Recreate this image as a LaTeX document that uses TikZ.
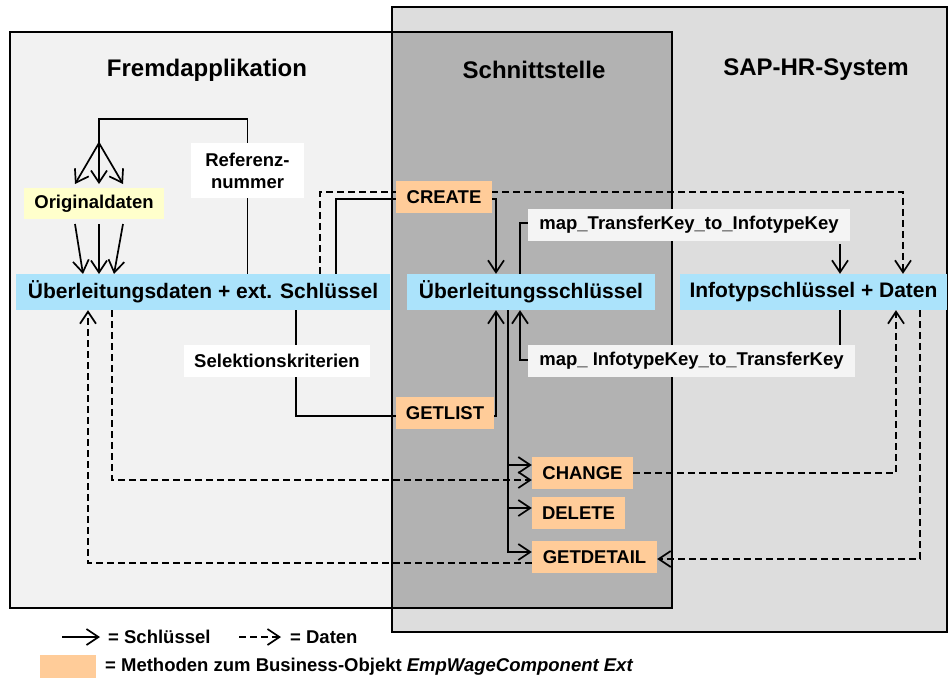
\documentclass[tikz,border=0pt]{standalone}
\usepackage{fontspec}
\setmainfont{Liberation Sans}
\usetikzlibrary{arrows.meta}
\definecolor{fremdfill}{HTML}{F2F2F2}
\definecolor{sapfill}{HTML}{DDDDDD}
\definecolor{schnfill}{HTML}{B2B2B2}
\definecolor{keyblue}{HTML}{ABE3FB}
\definecolor{methorange}{HTML}{FFCC99}
\definecolor{origyellow}{HTML}{FFFFCC}
\definecolor{mapgray}{HTML}{F4F4F4}
\pgfdeclarelayer{frames}
\pgfdeclarelayer{links}
\pgfsetlayers{frames,links,main}
\begin{document}
\begin{tikzpicture}[x=1pt,y=-1pt,
  lbl/.style={inner sep=0pt, font=\fontsize{18.5}{22}\selectfont\bfseries},
  bigbox/.style={inner sep=0pt, font=\fontsize{21}{25}\selectfont\bfseries, fill=keyblue, minimum height=36pt},
  meth/.style={lbl, fill=methorange, minimum height=32pt},
  maplbl/.style={lbl, fill=mapgray, minimum height=32pt},
  whitelbl/.style={lbl, fill=white},
  titletext/.style={font=\fontsize{24}{28}\selectfont\bfseries},
  link/.style={line width=1.7pt},
  keyarrow/.style={link, -{Straight Barb[length=12pt,width=16pt]}},
  dataarrow/.style={keyarrow, dash pattern=on 7pt off 4pt},
  frameline/.style={line width=1.7pt}]
\useasboundingbox (0,0) rectangle (949,678);

% frames
\begin{pgfonlayer}{frames}
\fill[sapfill] (392,7) rectangle (947,632);
\fill[fremdfill] (10,32) rectangle (672,608);
\fill[schnfill] (392,32) rectangle (672,608);
\draw[frameline] (392,7) rectangle (947,632);
\draw[frameline] (10,32) rectangle (672,608);
\end{pgfonlayer}

% titles
\node[titletext] (tfremd) at (207,70) {Fremdapplikation};
\node[titletext] (tschn) at (534,70) {Schnittstelle};
\node[titletext] (tsap) at (816,70) {SAP-HR-System};

% nodes
\node[lbl, fill=origyellow, minimum width=140pt, minimum height=31pt] (orig) at (94,203.5) {Originaldaten};
\node[whitelbl, minimum width=113pt, minimum height=55pt, align=center] (ref) at (247.5,170.5) {Referenz-\\nummer};
\node[bigbox, minimum width=374pt] (ued) at (203,292) {Überleitungsdaten + ext. Schlüssel};
\node[meth, minimum width=96pt] (create) at (444,197) {CREATE};
\node[bigbox, minimum width=248pt] (uesch) at (531,292) {Überleitungsschlüssel};
\node[maplbl, minimum width=322pt] (mapTI) at (689,225) {map\_TransferKey\_to\_InfotypeKey};
\node[bigbox, minimum width=267pt] (infod) at (813.5,292) {Infotypschlüssel + Daten};
\node[maplbl, minimum width=327pt] (mapIT) at (691.5,361) {map\_ InfotypeKey\_to\_TransferKey};
\node[whitelbl, minimum width=186pt, minimum height=32pt] (selek) at (277,361) {Selektionskriterien};
\node[meth, minimum width=98pt] (getlist) at (445,413) {GETLIST};
\node[meth, minimum width=101pt] (change) at (582.5,473) {CHANGE};
\node[meth, minimum width=93pt] (delete) at (578.5,513) {DELETE};
\node[meth, minimum width=125pt] (getdetail) at (594.5,557) {GETDETAIL};

% helper coordinates
\coordinate (fork) at (99,143);
\coordinate (top1) at (99,119);
\coordinate (oa1) at (75,184);
\coordinate (oa2) at (99,184);
\coordinate (oa3) at (123,184);
\coordinate (ob1) at (75,224);
\coordinate (ob2) at (99,224);
\coordinate (ob3) at (123,224);
\coordinate (oc1) at (83,274);
\coordinate (oc2) at (99,274);
\coordinate (oc3) at (114,274);

\begin{pgfonlayer}{links}
% Referenznummer loop
\draw[link] (ref.north) |- (top1) -- (fork);
\draw[link] (ref.south) -- (ref.south |- ued.north);
\draw[keyarrow] (fork) -- (oa1);
\draw[keyarrow] (fork) -- (oa2);
\draw[keyarrow] (fork) -- (oa3);
\draw[keyarrow] (ob1) -- (oc1);
\draw[keyarrow] (ob2) -- (oc2);
\draw[keyarrow] (ob3) -- (oc3);
% CREATE
\draw[link] ([xshift=133pt]ued.north) |- ([yshift=-2pt]create.west);
\draw[keyarrow] ([yshift=-2pt]create.east) -| ([xshift=-35pt]uesch.north);
\draw[dataarrow] ([xshift=117pt]ued.north) -- ++(0,-82) -| ([xshift=89.5pt]infod.north);
% map functions
\draw[link] ([xshift=-11pt]uesch.north) |- ([yshift=2pt]mapTI.west);
\draw[keyarrow] ([xshift=151pt,yshift=-3pt]mapTI.south) -- ([xshift=26.5pt]infod.north);
\draw[link] ([xshift=26.5pt]infod.south) -- ([xshift=148.5pt]mapIT.north);
\draw[keyarrow] ([yshift=1pt]mapIT.west) -| ([xshift=-11pt]uesch.south);
% GETLIST
\draw[link] ([xshift=93pt]ued.south) -- ([xshift=19pt]selek.north);
\draw[link] ([xshift=19pt]selek.south) |- ([yshift=-3pt]getlist.west);
\draw[keyarrow] ([yshift=-3pt]getlist.east) -| ([xshift=-35pt]uesch.south);
% key bus to CHANGE / DELETE / GETDETAIL
\draw[keyarrow] ([xshift=-23pt]uesch.south) |- ([yshift=8pt]change.west);
\draw[keyarrow] ([xshift=-23pt]uesch.south) |- ([yshift=5pt]delete.west);
\draw[keyarrow] ([xshift=-23pt]uesch.south) |- ([yshift=5pt]getdetail.west);
% data flows
\draw[dataarrow] ([xshift=-91pt]ued.south) |- ([yshift=-7pt]change.west);
\draw[dataarrow] (change.east) -| ([xshift=82.5pt]infod.south);
\draw[dataarrow] ([xshift=106.5pt]infod.south) |- ([yshift=-2pt]getdetail.east);
\draw[dataarrow] ([yshift=-6pt]getdetail.west) -| ([xshift=-115pt]ued.south);
\end{pgfonlayer}

% legend
\coordinate (lk1) at (62,637);
\coordinate (lk2) at (100,637);
\coordinate (ld1) at (239,637);
\coordinate (ld2) at (281,637);
\draw[keyarrow] (lk1) -- (lk2);
\node[lbl, anchor=west] (lkt) at (108,637) {= Schlüssel};
\draw[dataarrow] (ld1) -- (ld2);
\node[lbl, anchor=west] (ldt) at (290,637) {= Daten};
\node[fill=methorange, minimum width=56pt, minimum height=23pt, inner sep=0pt] (lmeth) at (68,666.5) {};
\node[lbl, anchor=west] (lmt) at (105,667) {= Methoden zum Business-Objekt \textit{EmpWageComponent Ext}};
\end{tikzpicture}
\end{document}
